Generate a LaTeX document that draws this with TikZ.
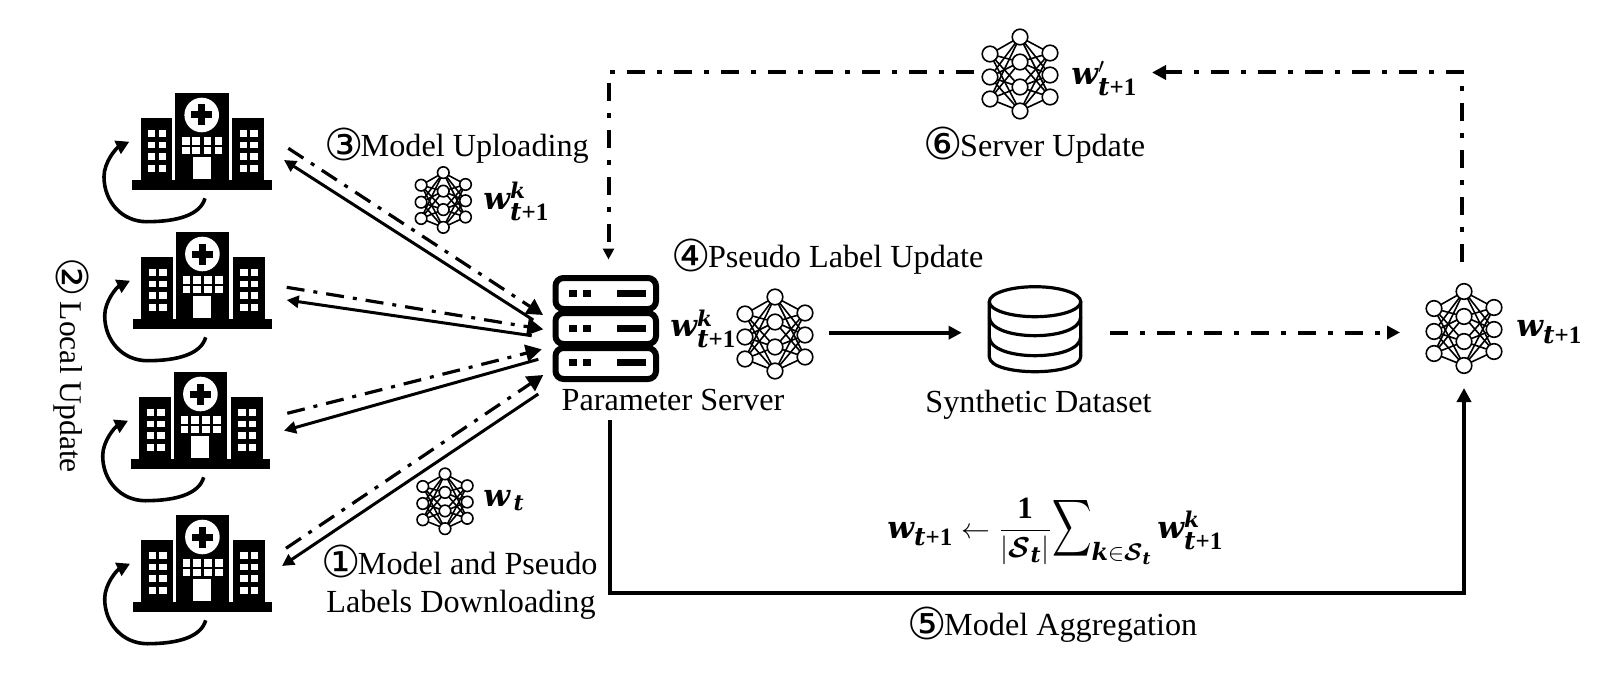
\documentclass[tikz,border=0pt]{standalone}
\usepackage{amsmath}
\usepackage{amsbsy}
\usepackage{graphicx}
\usepackage{fontspec}
\setmainfont{Liberation Serif}
\newfontfamily\circfont{DejaVu Sans}
\newfontfamily\wfont{DejaVu Serif}
\usetikzlibrary{arrows.meta}
\newcommand{\cnum}[1]{\kern-1.5pt\raisebox{-1.8pt}{\fontsize{22}{22}\selectfont\circfont #1}\kern-1.5pt}
\newcommand{\wt}[1]{\text{\wfont\bfseries\itshape #1}}
\newcommand{\tpo}{\scalebox{1.15}{$\scriptstyle\wt{t}\text{\bfseries +1}$}}
\tikzset{
  lab/.style={inner sep=0pt,anchor=base,font=\fontsize{16.1}{16.1}\selectfont},
  mlab/.style={inner sep=0pt,anchor=base west,font=\fontsize{15.5}{15.5}\selectfont},
  solidarrow/.style={draw=black,line width=1.5pt,-{Triangle[length=6pt,width=6pt]}},
  dasharrow/.style={draw=black,line width=1.6pt,dash pattern=on 9pt off 4.5pt on 2pt off 4.5pt,-{Triangle[length=8pt,width=8.5pt]}},
  longdash/.style={draw=black,line width=2pt,dash pattern=on 9pt off 6pt on 2.5pt off 6pt},
  hwin/.style={fill=white},
  pics/nn/.style={code={
    \foreach \a in {-20,3,25}{\foreach \b in {-37,-12,13,37}{\draw[line width=.8pt] (-30,\a) -- (0,\b);}}
    \foreach \a in {-21,1,23}{\foreach \b in {-37,-12,13,37}{\draw[line width=.8pt] (30,\a) -- (0,\b);}}
    \foreach \x/\y in {-30/-20,-30/3,-30/25,0/-37,0/-12,0/13,0/37,30/-21,30/1,30/23}{
      \filldraw[fill=white,draw=black,line width=.8pt] (\x,\y) circle (7.8);}
  }},
  pics/hospital/.style={code={
    \fill (0,-10) rectangle (139.4,0);
    \fill (8.4,-72.3) rectangle (39.7,-10);
    \fill (43,-97.3) rectangle (96.4,-10);
    \fill (99.7,-72.3) rectangle (131.7,-10);
    \fill[white] (69.4,-75) circle (17.3);
    \fill (66,-85.5) rectangle (73,-64.5);
    \fill (59,-78.5) rectangle (80,-71.5);
    \foreach \x in {53.4,63.7,75,86}{\foreach \y in {-49,-39.7}{\fill[hwin] (\x-3.8,\y-3.6) rectangle (\x+3.8,\y+3.6);}}
    \foreach \x in {19.4,30,110.9,121.7}{\foreach \y in {-56.7,-45,-33.3,-21.7}{\fill[hwin] (\x-3.7,\y-3.3) rectangle (\x+3.7,\y+3.3);}}
    \fill[hwin] (60.4,-32.7) rectangle (78.4,-10.7);
    \draw[line width=1.8pt,-{Triangle[length=6.5pt,width=7pt]}] (72.7,8.3) .. controls (68,25) and (45,31.7) .. (14.4,31.7) .. controls (-10,31.7) and (-28.3,12) .. (-28.3,-13.3) .. controls (-28.3,-28) and (-16,-42) .. (-3,-48.3);
  }}
}
\begin{document}
\begin{tikzpicture}[x=.5pt,y=-.5pt]
\useasboundingbox (0,0) rectangle (1605,674);
% hospitals
\pic at (132.3,190) {hospital};
\pic at (133,329) {hospital};
\pic at (131,469) {hospital};
\pic at (133,612) {hospital};
% server
\foreach \yy in {278,313,348}{
  \draw[line width=3pt,rounded corners=4pt] (555.5,\yy) rectangle (656,\yy+31);
}
\foreach \yy in {290,324.5,359}{
  \fill (569.3,\yy) rectangle (576.7,\yy+7.4);
  \fill (583,\yy) rectangle (590.7,\yy+7.4);
  \fill (617.3,\yy) rectangle (645.7,\yy+7.4);
}
% networks
\pic at (775,334) {nn};
\pic at (1020,74) {nn};
\pic at (1464,328.5) {nn};
\pic[scale=.74] at (443.3,200) {nn};
\pic[scale=.74] at (445,501.3) {nn};
% database
\draw[line width=1.6pt] (1035,301.7) ellipse (45.7 and 15);
\draw[line width=1.6pt] (989.3,301.7) -- (989.3,356.7) .. controls (989.3,376.7) and (1080.7,376.7) .. (1080.7,356.7) -- (1080.7,301.7);
\draw[line width=1.6pt] (989.3,316.7) .. controls (989.3,342) and (1080.7,342) .. (1080.7,316.7);
\draw[line width=1.6pt] (989.3,336.7) .. controls (989.3,362) and (1080.7,362) .. (1080.7,336.7);
% connector ends
\coordinate (h1a) at (288.3,148.3);
\coordinate (h1b) at (284,160);
\coordinate (h2a) at (286.7,287.3);
\coordinate (h2b) at (286.7,300);
\coordinate (h3a) at (287.3,413.3);
\coordinate (h3b) at (284,430.7);
\coordinate (h4a) at (286,548.3);
\coordinate (h4b) at (282,566);
\coordinate (s1a) at (543,315);
\coordinate (s1b) at (533.3,320);
\coordinate (s2a) at (543.3,329.3);
\coordinate (s2b) at (531.7,335.7);
\coordinate (s3a) at (541.7,349.3);
\coordinate (s3b) at (538.3,359.3);
\coordinate (s4a) at (543.3,375);
\coordinate (s4b) at (538.3,394);
\coordinate (srvR) at (829,332.7);
\coordinate (dbL) at (961.7,332.7);
\coordinate (dbR) at (1110,332.5);
\coordinate (nnL) at (1400,332.5);
\coordinate (srvB) at (610,420);
\coordinate (nnB) at (1464,388);
\coordinate (nnT) at (1462,262);
\coordinate (topR) at (1152,72.5);
\coordinate (topL) at (974,72.5);
\coordinate (srvT) at (608.5,259.5);
% connectors
\draw[dasharrow] (h1a) -- (s1a);
\draw[solidarrow] (s1b) -- (h1b);
\draw[dasharrow] (h2a) -- (s2a);
\draw[solidarrow] (s2b) -- (h2b);
\draw[dasharrow] (h3a) -- (s3a);
\draw[solidarrow] (s3b) -- (h3b);
\draw[dasharrow] (h4a) -- (s4a);
\draw[solidarrow] (s4b) -- (h4b);
\draw[line width=1.8pt,-{Triangle[length=6.5pt,width=6.5pt]}] (srvR) -- (dbL);
\draw[longdash,-{Triangle[length=6.5pt,width=6.5pt]}] (dbR) -- (nnL);
\draw[line width=2.3pt,-{Triangle[length=7pt,width=7pt]}] (srvB) |- (nnB |- 0,593) -- (nnB);
\draw[longdash,-{Triangle[length=7pt,width=7pt]}] (nnT) |- (topR);
\draw[longdash,-{Triangle[length=5.5pt,width=5.5pt]}] (topL) -| (srvT);
% labels
\node[lab] (l3) at (458,156.5) {\cnum{③}Model Uploading};
\node[lab] (l4) at (829,267.5) {\cnum{④}Pseudo Label Update};
\node[lab] (l6) at (1036,156) {\cnum{⑥}Server Update};
\node[lab] (l5) at (1054,635.5) {\cnum{⑤}Model Aggregation};
\node[lab] (l1a) at (461,574) {\cnum{①}Model and Pseudo};
\node[lab] (l1b) at (461,612) {Labels Downloading};
\node[lab] (lsrv) at (673,410) {Parameter Server};
\node[lab] (ldb) at (1038.5,412.5) {Synthetic Dataset};
\node[lab,anchor=base west,rotate=-90,font=\fontsize{15.8}{15.8}\selectfont] (l2) at (60,260) {\cnum{②}\hspace{4pt}Local Update};
\node[mlab] (w1) at (670,336.5) {$\wt{w}_{\tpo}^{\wt{k}}$};
\node[mlab] (w2) at (483,209) {$\wt{w}_{\tpo}^{\wt{k}}$};
\node[mlab] (w3) at (483,506) {$\wt{w}_{\,\wt{t}}$};
\node[mlab] (w4) at (1071,84) {$\wt{w}'_{\tpo}$};
\node[mlab] (w5) at (1516,336.5) {$\wt{w}_{\tpo}$};
\node[mlab] (w6) at (887,538) {$\wt{w}_{\tpo}\leftarrow\dfrac{\text{\bfseries 1}}{|\boldsymbol{\mathcal S}_{\wt{t}}|}\scalebox{.95}[1.38]{$\displaystyle\sum\nolimits$}_{\scalebox{1.1}{$\scriptstyle\wt{k}\in\boldsymbol{\mathcal S}_{\wt{t}}$}}\,\wt{w}_{\tpo}^{\wt{k}}$};
\end{tikzpicture}
\end{document}
